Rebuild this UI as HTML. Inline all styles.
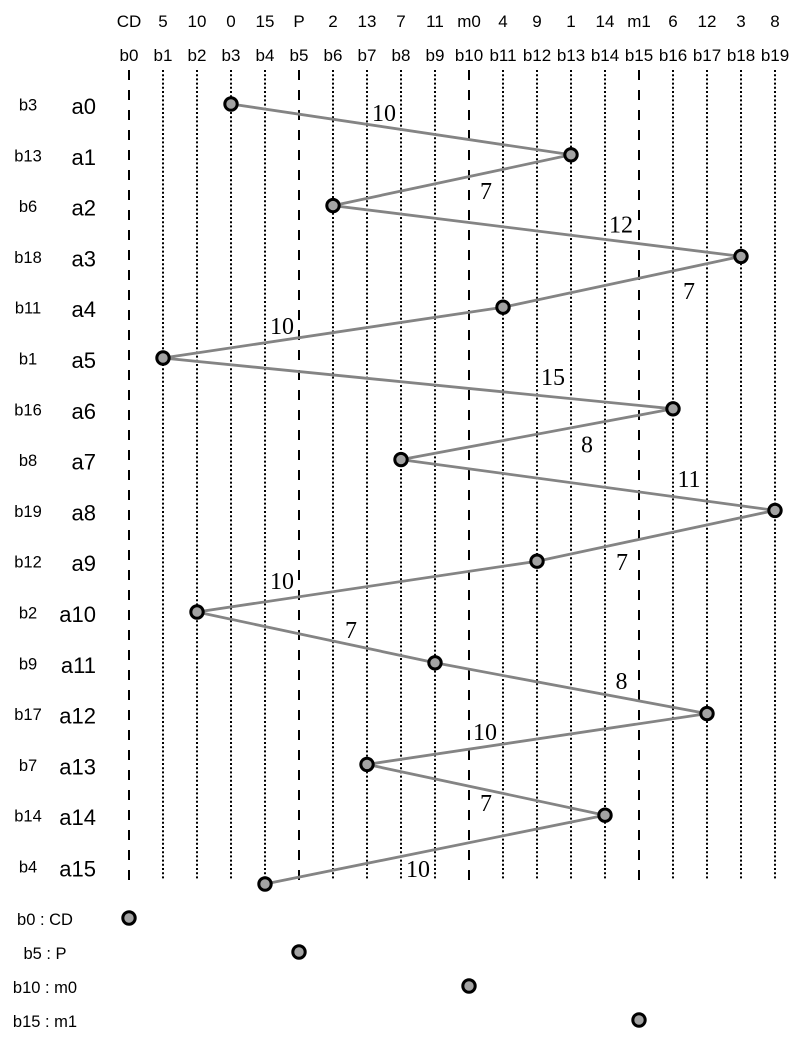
<!DOCTYPE html>
<html>
<head>
<meta charset="utf-8">
<style>
html,body{margin:0;padding:0;background:#fff;}
svg{display:block;}
.h{font-family:"Liberation Sans",sans-serif;font-size:17px;fill:#000;text-anchor:middle;}
.bl{font-family:"Liberation Sans",sans-serif;font-size:16.5px;fill:#000;text-anchor:middle;}
.al{font-family:"Liberation Sans",sans-serif;font-size:22px;fill:#000;text-anchor:end;}
.w{font-family:"Liberation Serif",serif;font-size:24px;fill:#000;text-anchor:middle;}
.bt{font-family:"Liberation Sans",sans-serif;font-size:16.5px;fill:#000;text-anchor:middle;}
.dot{stroke:#000;stroke-width:2;stroke-dasharray:2,2.2;fill:none;}
.dash{stroke:#000;stroke-width:2;stroke-dasharray:10,10;fill:none;}
.edge{stroke:#848484;stroke-width:2.8;fill:none;stroke-linejoin:round;}
.n{fill:#a3a3a3;stroke:#000;stroke-width:3;}
</style>
</head>
<body>
<svg width="810" height="1056" viewBox="0 0 810 1056" xmlns="http://www.w3.org/2000/svg">
<!-- header row 1 -->
<text class="h" x="129" y="27">CD</text>
<text class="h" x="163" y="27">5</text>
<text class="h" x="197" y="27">10</text>
<text class="h" x="231" y="27">0</text>
<text class="h" x="265" y="27">15</text>
<text class="h" x="299" y="27">P</text>
<text class="h" x="333" y="27">2</text>
<text class="h" x="367" y="27">13</text>
<text class="h" x="401" y="27">7</text>
<text class="h" x="435" y="27">11</text>
<text class="h" x="469" y="27">m0</text>
<text class="h" x="503" y="27">4</text>
<text class="h" x="537" y="27">9</text>
<text class="h" x="571" y="27">1</text>
<text class="h" x="605" y="27">14</text>
<text class="h" x="639" y="27">m1</text>
<text class="h" x="673" y="27">6</text>
<text class="h" x="707" y="27">12</text>
<text class="h" x="741" y="27">3</text>
<text class="h" x="775" y="27">8</text>
<!-- header row 2 -->
<text class="h" x="129" y="61">b0</text>
<text class="h" x="163" y="61">b1</text>
<text class="h" x="197" y="61">b2</text>
<text class="h" x="231" y="61">b3</text>
<text class="h" x="265" y="61">b4</text>
<text class="h" x="299" y="61">b5</text>
<text class="h" x="333" y="61">b6</text>
<text class="h" x="367" y="61">b7</text>
<text class="h" x="401" y="61">b8</text>
<text class="h" x="435" y="61">b9</text>
<text class="h" x="469" y="61">b10</text>
<text class="h" x="503" y="61">b11</text>
<text class="h" x="537" y="61">b12</text>
<text class="h" x="571" y="61">b13</text>
<text class="h" x="605" y="61">b14</text>
<text class="h" x="639" y="61">b15</text>
<text class="h" x="673" y="61">b16</text>
<text class="h" x="707" y="61">b17</text>
<text class="h" x="741" y="61">b18</text>
<text class="h" x="775" y="61">b19</text>

<!-- vertical lines -->
<line class="dash" x1="129" y1="70" x2="129" y2="880"/>
<line class="dot" x1="163" y1="70" x2="163" y2="880"/>
<line class="dot" x1="197" y1="70" x2="197" y2="880"/>
<line class="dot" x1="231" y1="70" x2="231" y2="880"/>
<line class="dot" x1="265" y1="70" x2="265" y2="880"/>
<line class="dash" x1="299" y1="70" x2="299" y2="880"/>
<line class="dot" x1="333" y1="70" x2="333" y2="880"/>
<line class="dot" x1="367" y1="70" x2="367" y2="880"/>
<line class="dot" x1="401" y1="70" x2="401" y2="880"/>
<line class="dot" x1="435" y1="70" x2="435" y2="880"/>
<line class="dash" x1="469" y1="70" x2="469" y2="880"/>
<line class="dot" x1="503" y1="70" x2="503" y2="880"/>
<line class="dot" x1="537" y1="70" x2="537" y2="880"/>
<line class="dot" x1="571" y1="70" x2="571" y2="880"/>
<line class="dot" x1="605" y1="70" x2="605" y2="880"/>
<line class="dash" x1="639" y1="70" x2="639" y2="880"/>
<line class="dot" x1="673" y1="70" x2="673" y2="880"/>
<line class="dot" x1="707" y1="70" x2="707" y2="880"/>
<line class="dot" x1="741" y1="70" x2="741" y2="880"/>
<line class="dot" x1="775" y1="70" x2="775" y2="880"/>

<!-- left labels -->
<text class="bl" x="28" y="110.5">b3</text><text class="al" x="96" y="114">a0</text>
<text class="bl" x="28" y="161.3">b13</text><text class="al" x="96" y="164.8">a1</text>
<text class="bl" x="28" y="212.1">b6</text><text class="al" x="96" y="215.6">a2</text>
<text class="bl" x="28" y="262.9">b18</text><text class="al" x="96" y="266.4">a3</text>
<text class="bl" x="28" y="313.7">b11</text><text class="al" x="96" y="317.2">a4</text>
<text class="bl" x="28" y="364.5">b1</text><text class="al" x="96" y="368">a5</text>
<text class="bl" x="28" y="415.3">b16</text><text class="al" x="96" y="418.8">a6</text>
<text class="bl" x="28" y="466.1">b8</text><text class="al" x="96" y="469.6">a7</text>
<text class="bl" x="28" y="516.9">b19</text><text class="al" x="96" y="520.4">a8</text>
<text class="bl" x="28" y="567.7">b12</text><text class="al" x="96" y="571.2">a9</text>
<text class="bl" x="28" y="618.5">b2</text><text class="al" x="96" y="622">a10</text>
<text class="bl" x="28" y="669.3">b9</text><text class="al" x="96" y="672.8">a11</text>
<text class="bl" x="28" y="720.1">b17</text><text class="al" x="96" y="723.6">a12</text>
<text class="bl" x="28" y="770.9">b7</text><text class="al" x="96" y="774.4">a13</text>
<text class="bl" x="28" y="821.7">b14</text><text class="al" x="96" y="825.2">a14</text>
<text class="bl" x="28" y="872.5">b4</text><text class="al" x="96" y="876.5">a15</text>

<!-- edges -->
<polyline class="edge" points="231,104 571,154.8 333,205.6 741,256.4 503,307.2 163,358 673,408.8 401,459.6 775,510.4 537,561.2 197,612 435,662.8 707,713.6 367,764.4 605,815.2 265,884"/>

<!-- nodes -->
<circle class="n" cx="231" cy="104" r="6.2"/>
<circle class="n" cx="571" cy="154.8" r="6.2"/>
<circle class="n" cx="333" cy="205.6" r="6.2"/>
<circle class="n" cx="741" cy="256.4" r="6.2"/>
<circle class="n" cx="503" cy="307.2" r="6.2"/>
<circle class="n" cx="163" cy="358" r="6.2"/>
<circle class="n" cx="673" cy="408.8" r="6.2"/>
<circle class="n" cx="401" cy="459.6" r="6.2"/>
<circle class="n" cx="775" cy="510.4" r="6.2"/>
<circle class="n" cx="537" cy="561.2" r="6.2"/>
<circle class="n" cx="197" cy="612" r="6.2"/>
<circle class="n" cx="435" cy="662.8" r="6.2"/>
<circle class="n" cx="707" cy="713.6" r="6.2"/>
<circle class="n" cx="367" cy="764.4" r="6.2"/>
<circle class="n" cx="605" cy="815.2" r="6.2"/>
<circle class="n" cx="265" cy="884" r="6.2"/>

<!-- edge weights -->
<text class="w" x="384" y="121">10</text>
<text class="w" x="486" y="199">7</text>
<text class="w" x="621" y="232.5">12</text>
<text class="w" x="689" y="299">7</text>
<text class="w" x="282" y="334">10</text>
<text class="w" x="553" y="385">15</text>
<text class="w" x="587" y="452.5">8</text>
<text class="w" x="689" y="487">11</text>
<text class="w" x="622" y="570">7</text>
<text class="w" x="282" y="589">10</text>
<text class="w" x="351" y="638">7</text>
<text class="w" x="621.5" y="689">8</text>
<text class="w" x="485" y="740">10</text>
<text class="w" x="486" y="811">7</text>
<text class="w" x="418" y="877">10</text>

<!-- bottom legend -->
<text class="bt" x="45" y="925">b0 : CD</text>
<circle class="n" cx="129" cy="918" r="6.2"/>
<text class="bt" x="45" y="959">b5 : P</text>
<circle class="n" cx="299" cy="952" r="6.2"/>
<text class="bt" x="45" y="993">b10 : m0</text>
<circle class="n" cx="469" cy="986" r="6.2"/>
<text class="bt" x="45" y="1027">b15 : m1</text>
<circle class="n" cx="639" cy="1020" r="6.2"/>
</svg>
</body>
</html>
